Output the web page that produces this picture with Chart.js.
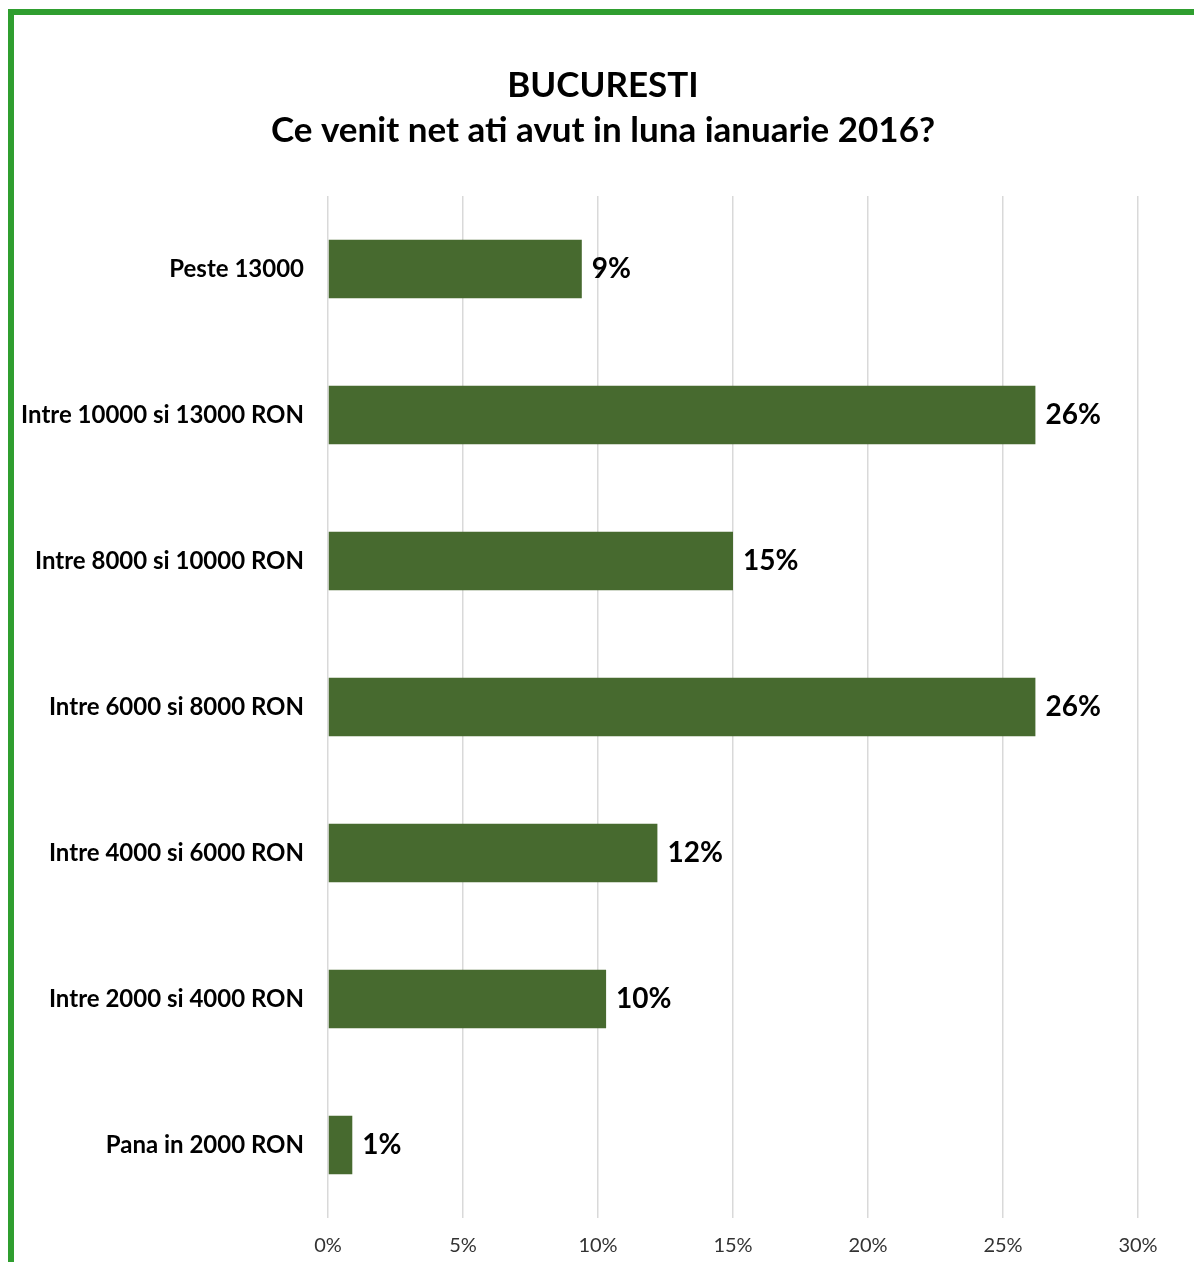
<!DOCTYPE html>
<html>
<head>
<meta charset="utf-8">
<title>Bucuresti - venit net ianuarie 2016</title>
<script src="https://cdn.jsdelivr.net/npm/chart.js@4"></script>
<style>
    body { margin: 0; background: #fff; }
    #wrap { position: relative; width: 1194px; height: 1262px; overflow: hidden; }
    #frame { position: absolute; left: 8px; top: 9px; width: 1300px; height: 1400px; border-left: 6px solid #2f9e2f; border-top: 6px solid #2f9e2f; pointer-events: none; }
</style>
</head>
<body>
<div id="wrap">
    <canvas id="chart" width="1194" height="1262"></canvas>
    <div id="frame"></div>
</div>
<script>
// income brackets, top to bottom
const categories = [
    'Peste 13000',
    'Intre 10000 si 13000 RON',
    'Intre 8000 si 10000 RON',
    'Intre 6000 si 8000 RON',
    'Intre 4000 si 6000 RON',
    'Intre 2000 si 4000 RON',
    'Pana in 2000 RON'
];
// share of respondents (%)
const shares = [9.4, 26.2, 15.0, 26.2, 12.2, 10.3, 0.9];
const shareLabels = ['9%', '26%', '15%', '26%', '12%', '10%', '1%'];
const titleLines = ['BUCURESTI', 'Ce venit net ati avut in luna ianuarie 2016?'];

const FONT = 'Lato, "Open Sans", sans-serif';

// two-line title, centred on the framed area rather than the canvas padding box
const titleBlock = {
    id: 'titleBlock',
    afterDraw(chart) {
        const ctx = chart.ctx;
        ctx.save();
        ctx.font = 'bold 35px ' + FONT;
        ctx.fillStyle = '#000';
        ctx.textAlign = 'center';
        ctx.textBaseline = 'middle';
        titleLines.forEach((line, i) => ctx.fillText(line, 603, 86 + i * 45));
        ctx.restore();
    }
};

// values written after each bar end
const barLabels = {
    id: 'barLabels',
    afterDatasetsDraw(chart) {
        const ctx = chart.ctx;
        const meta = chart.getDatasetMeta(0);
        ctx.save();
        ctx.font = 'bold 28px ' + FONT;
        ctx.fillStyle = '#000';
        ctx.textBaseline = 'middle';
        ctx.textAlign = 'left';
        meta.data.forEach((bar, i) => {
            ctx.fillText(shareLabels[i], bar.x + 10, bar.y);
        });
        ctx.restore();
    }
};

new Chart(document.getElementById('chart'), {
    type: 'bar',
    data: {
        labels: categories,
        datasets: [{
            data: shares,
            backgroundColor: '#476a2f',
            barPercentage: 0.4,
            categoryPercentage: 1.0
        }]
    },
    options: {
        indexAxis: 'y',
        responsive: false,
        animation: false,
        layout: { padding: { left: 0, right: 56, top: 196, bottom: 0 } },
        plugins: {
            legend: { display: false },
            tooltip: { enabled: false },
            title: { display: false }
        },
        scales: {
            x: {
                min: 0,
                max: 30,
                ticks: {
                    stepSize: 5,
                    callback: v => v + '%',
                    color: '#333',
                    font: { family: FONT, size: 20 },
                    padding: 16
                },
                grid: { color: '#d9d9d9', lineWidth: 1.5, drawTicks: false },
                border: { display: false },
                afterFit: scale => { scale.height = 44; }
            },
            y: {
                ticks: {
                    color: '#000',
                    font: { family: FONT, size: 24, weight: 'bold' },
                    padding: 24
                },
                grid: { display: false, drawTicks: false },
                border: { display: false },
                afterFit: scale => { scale.width = 328; }
            }
        }
    },
    plugins: [barLabels, titleBlock]
});
</script>
</body>
</html>
